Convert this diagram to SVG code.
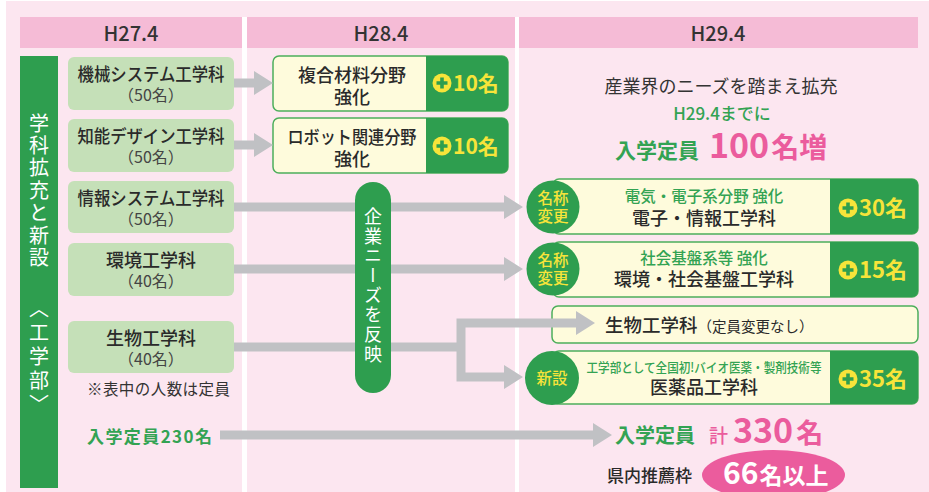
<svg xmlns="http://www.w3.org/2000/svg" xmlns:xlink="http://www.w3.org/1999/xlink" width="929" height="492" viewBox="0 0 929 492">
<style>
text{font-family:"Noto Sans CJK JP","Noto Sans",sans-serif}
.hdr{fill:#f5bbd6}
.hdrt{font-size:20px;font-weight:500;fill:#333;text-anchor:middle}
.lnode{fill:#c5e0b8}
.lt{font-size:18px;fill:#2a2a2a;text-anchor:middle;font-weight:500}
.ls{font-size:16px;fill:#444;text-anchor:middle}
.box{fill:#fefbdc;stroke:#4cae5b;stroke-width:1.5}
.gr{fill:#2e9e4f}
.bt{font-size:18px;fill:#2a2a2a;text-anchor:middle;font-weight:500}
.gt{fill:#33a353;text-anchor:middle;font-weight:500}
.num{fill:#f7e43a;font-weight:700}
.badge{fill:#2e9e4f}
.bdt{fill:#f7e43a;font-size:15.5px;text-anchor:middle;font-weight:500}
.conn{fill:#c0c1c4}
.vt{fill:#fff;writing-mode:vertical-rl}
.pink{fill:#eb5c9d}
</style>
<defs>
<g id="pl"><circle r="9.5" fill="#f7e43a"/><path d="M-5.5 0H5.5M0 -5.5V5.5" stroke="#2e9e4f" stroke-width="3.6"/></g>
</defs>
<rect x="0" y="0" width="929" height="492" fill="#ffffff"/>
<rect x="6" y="1" width="923" height="491" fill="#fce6f0"/>
<rect x="242" y="17" width="5" height="475" fill="#ffffff"/>
<rect x="515" y="17" width="4" height="475" fill="#ffffff"/>

<g id="headers">
<rect class="hdr" x="20" y="17" width="222" height="31"/>
<rect class="hdr" x="247" y="17" width="268" height="31"/>
<rect class="hdr" x="519" y="17" width="399" height="31"/>
<text class="hdrt" x="131" y="41">H27.4</text>
<text class="hdrt" x="381" y="41">H28.4</text>
<text class="hdrt" x="718" y="41">H29.4</text>
</g>

<g id="sidebar">
<rect class="gr" x="20" y="56" width="38" height="432"/>
<text class="vt" x="39" y="113" font-size="20" letter-spacing="2.4">学科拡充と新設</text>
<text class="vt" x="39" y="298" font-size="20" letter-spacing="4">〈工学部〉</text>
</g>

<g id="n-kikai">
<rect class="lnode" x="68" y="57" width="166" height="53" rx="6"/>
<text class="lt" x="151" y="81" textLength="147" lengthAdjust="spacingAndGlyphs">機械システム工学科</text>
<text class="ls" x="151" y="101">（50名）</text>
</g>
<g id="n-chino">
<rect class="lnode" x="68" y="119" width="166" height="53" rx="6"/>
<text class="lt" x="151" y="143" textLength="147" lengthAdjust="spacingAndGlyphs">知能デザイン工学科</text>
<text class="ls" x="151" y="163">（50名）</text>
</g>
<g id="n-joho">
<rect class="lnode" x="68" y="181" width="166" height="52" rx="6"/>
<text class="lt" x="151" y="205" textLength="147" lengthAdjust="spacingAndGlyphs">情報システム工学科</text>
<text class="ls" x="151" y="225">（50名）</text>
</g>
<g id="n-kankyo">
<rect class="lnode" x="68" y="243" width="166" height="53" rx="6"/>
<text class="lt" x="151" y="267">環境工学科</text>
<text class="ls" x="151" y="287">（40名）</text>
</g>
<g id="n-seibutsu">
<rect class="lnode" x="68" y="321" width="166" height="52" rx="6"/>
<text class="lt" x="151" y="345">生物工学科</text>
<text class="ls" x="151" y="365">（40名）</text>
</g>
<g id="note">
<text x="87" y="395" font-size="15.5" fill="#333" textLength="143">※表中の人数は定員</text>
</g>
<g id="total-before">
<text x="87" y="443" font-size="17" fill="#33a353" font-weight="700" textLength="125">入学定員230名</text>
</g>

<g id="b-fukugo">
<rect class="box" x="273" y="56" width="235" height="55" rx="6"/>
<path class="gr" d="M426 56H502A6 6 0 0 1 508 62V105A6 6 0 0 1 502 111H426Z"/>
<text class="bt"><tspan x="352" y="82">複合材料分野</tspan><tspan x="352" y="104">強化</tspan></text>
<use href="#pl" x="442" y="83"/>
<text class="num" x="453" y="91" font-size="21">10名</text>
</g>
<g id="b-robot">
<rect class="box" x="273" y="118" width="235" height="55" rx="6"/>
<path class="gr" d="M426 118H502A6 6 0 0 1 508 124V167A6 6 0 0 1 502 173H426Z"/>
<text class="bt"><tspan x="352" y="144" textLength="129" lengthAdjust="spacingAndGlyphs">ロボット関連分野</tspan><tspan x="352" y="166">強化</tspan></text>
<use href="#pl" x="442" y="146"/>
<text class="num" x="453" y="154" font-size="21">10名</text>
</g>

<g id="summary">
<text x="721" y="93" font-size="18" fill="#333" text-anchor="middle">産業界のニーズを踏まえ拡充</text>
<text class="gt" x="722" y="120" font-size="17">H29.4までに</text>
<text x="615" y="158" font-size="21" fill="#33a353" font-weight="700">入学定員</text>
<text class="pink" x="709" y="158" font-size="34" font-weight="700">100<tspan font-size="28" dx="2">名増</tspan></text>
</g>

<g id="b-denshi">
<rect class="box" x="553" y="179" width="365" height="55" rx="6"/>
<path class="gr" d="M830 179H912A6 6 0 0 1 918 185V228A6 6 0 0 1 912 234H830Z"/>
<text class="gt" x="704" y="202" font-size="15.5">電気・電子系分野 強化</text>
<text class="bt" x="704" y="225">電子・情報工学科</text>
<use href="#pl" x="848" y="208"/>
<text class="num" x="859" y="216" font-size="22">30名</text>
</g>
<g id="b-kankyo">
<rect class="box" x="553" y="242" width="365" height="55" rx="6"/>
<path class="gr" d="M830 242H912A6 6 0 0 1 918 248V291A6 6 0 0 1 912 297H830Z"/>
<text class="gt" x="704" y="264" font-size="15.5">社会基盤系等 強化</text>
<text class="bt" x="704" y="286">環境・社会基盤工学科</text>
<use href="#pl" x="848" y="270"/>
<text class="num" x="859" y="278" font-size="22">15名</text>
</g>
<g id="b-seibutsu">
<rect class="box" x="552" y="306" width="366" height="37" rx="6"/>
<text x="605" y="332" font-size="18.5" fill="#2a2a2a" font-weight="500">生物工学科<tspan font-size="14.5" font-weight="400">（定員変更なし）</tspan></text>
</g>
<g id="b-iyaku">
<rect class="box" x="553" y="351" width="365" height="53" rx="6"/>
<path class="gr" d="M830 351H912A6 6 0 0 1 918 357V398A6 6 0 0 1 912 404H830Z"/>
<text class="gt" x="704" y="372" font-size="13" textLength="235" lengthAdjust="spacingAndGlyphs">工学部として全国初!バイオ医薬・製剤技術等</text>
<text class="bt" x="704" y="394" font-size="18.5">医薬品工学科</text>
<use href="#pl" x="848" y="379"/>
<text class="num" x="859" y="387" font-size="22">35名</text>
</g>

<g id="connectors">
<path class="conn" d="M234 78.5H254V71L273 83L254 95V87.5H234Z"/>
<path class="conn" d="M234 140.5H254V133L273 145L254 157V149.5H234Z"/>
<path class="conn" d="M234 202.5H504V195L523 207L504 219V211.5H234Z"/>
<path class="conn" d="M234 264.5H504V257L523 269L504 281V273.5H234Z"/>
<path class="conn" d="M234 342.5H456.5V318.5H576V311L595 323L576 335V327.5H465.5V372.5H504V365L523 377L504 389V381.5H456.5V351.5H234Z"/>
<path class="conn" d="M220 430.5H593V423L612 435L593 447V439.5H220Z"/>
</g>

<g id="badge-1">
<circle class="badge" cx="553" cy="207" r="26.5"/>
<text class="bdt"><tspan x="553" y="204">名称</tspan><tspan x="553" y="222">変更</tspan></text>
</g>
<g id="badge-2">
<circle class="badge" cx="553" cy="269" r="26.5"/>
<text class="bdt"><tspan x="553" y="266">名称</tspan><tspan x="553" y="284">変更</tspan></text>
</g>
<g id="badge-3">
<circle class="badge" cx="552" cy="378" r="27"/>
<text class="bdt" x="552" y="384" font-size="16">新設</text>
</g>

<g id="pill">
<rect class="gr" x="355" y="182" width="36" height="211" rx="18"/>
<text class="vt" x="373" y="207" font-size="18" letter-spacing="1.7">企業ニーズを反映</text>
</g>

<g id="total-after">
<text x="615" y="443" font-size="20" fill="#33a353" font-weight="700">入学定員</text>
<text class="pink" x="709" y="443" font-size="19" font-weight="500">計</text>
<text class="pink" x="733" y="443" font-size="34" font-weight="700">330<tspan font-size="27" dx="3">名</tspan></text>
<text x="607" y="482" font-size="17" fill="#2a2a2a" font-weight="500">県内推薦枠</text>
<ellipse class="pink" cx="773.5" cy="475" rx="71.5" ry="25"/>
<text x="723" y="484" font-size="30" fill="#fff" font-weight="700">66<tspan font-size="23" dx="1">名以上</tspan></text>
</g>
</svg>
